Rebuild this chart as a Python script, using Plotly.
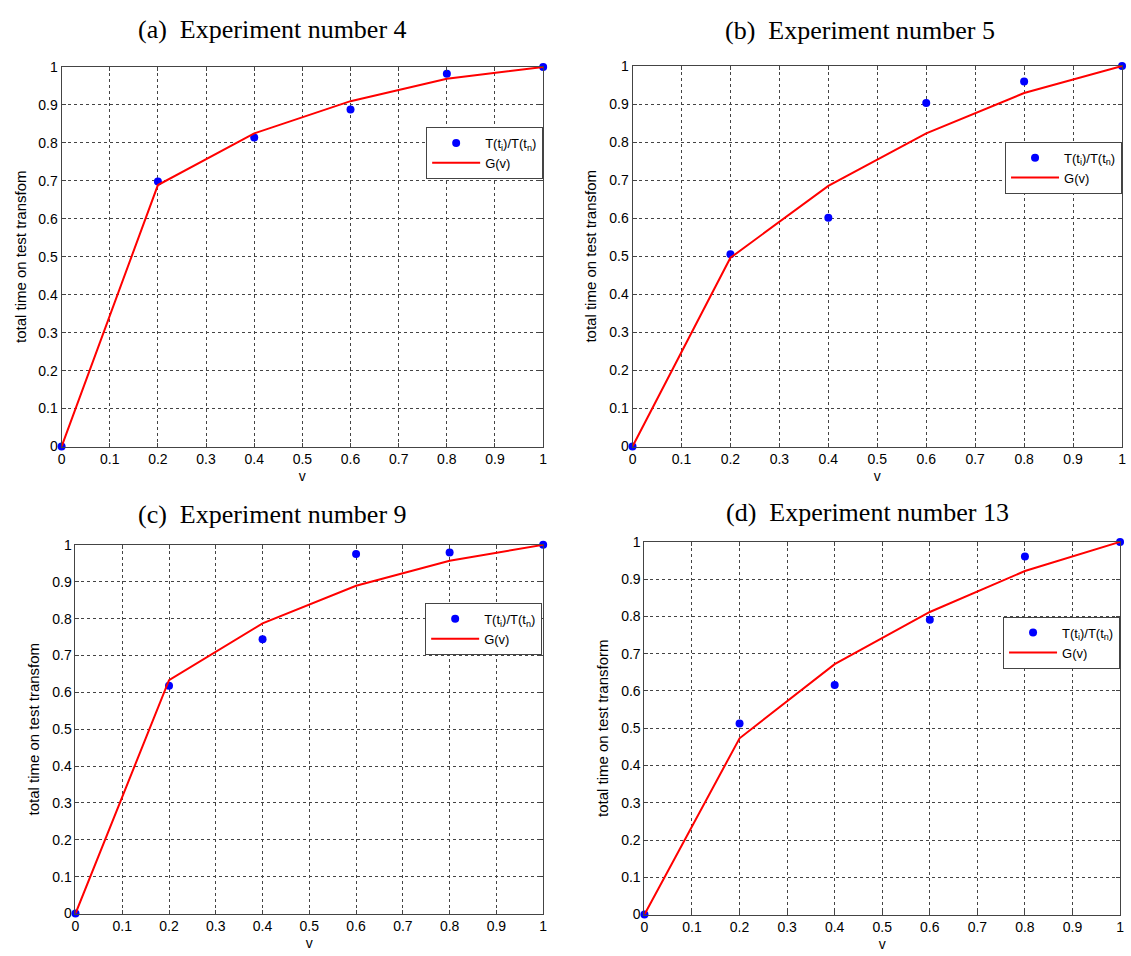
import plotly.graph_objects as go

v = [0, 0.2, 0.4, 0.6, 0.8, 1.0]

titles = ["(a)  Experiment number 4", "(b)  Experiment number 5",
          "(c)  Experiment number 9", "(d)  Experiment number 13"]
ylabels = ["total time on test transfom", "total time on test transfom",
           "total time on test transfom", "total time on test transform"]

pts_a = [0, 0.698, 0.814, 0.888, 0.982, 1.0]
g_a = [0, 0.689, 0.825, 0.910, 0.969, 1.0]
pts_b = [0, 0.505, 0.601, 0.903, 0.959, 1.0]
g_b = [0, 0.496, 0.685, 0.823, 0.929, 1.0]
pts_c = [0, 0.618, 0.744, 0.975, 0.979, 1.0]
g_c = [0, 0.633, 0.787, 0.889, 0.957, 1.0]
pts_d = [0, 0.513, 0.616, 0.791, 0.961, 1.0]
g_d = [0, 0.473, 0.672, 0.812, 0.922, 1.0]

points = [pts_a, pts_b, pts_c, pts_d]
curves = [g_a, g_b, g_c, g_d]

W, H = 1131, 956
# plot area pixel boxes (left, right, top, bottom)
boxes = [(58, 543, 60, 446), (633, 1126, 59, 446),
         (72, 543, 546, 921), (645, 1124, 543, 922)]
title_pos = [(270, 22), (862, 23), (270, 515), (870, 513)]
legend_pos = [(543, 121), (1126, 136), (542, 605), (1124, 619)]

fig = go.Figure()
layout = dict(width=W, height=H, margin=dict(l=0, r=0, t=0, b=0),
              paper_bgcolor="white", plot_bgcolor="white",
              font=dict(family="Liberation Sans, Arial", size=14, color="black"),
              annotations=[])

for i in range(4):
    sfx = "" if i == 0 else str(i + 1)
    leg = "legend" if i == 0 else f"legend{i+1}"
    fig.add_trace(go.Scatter(x=v, y=points[i], mode="markers",
                             marker=dict(color="#0000FF", size=8),
                             name="T(t<sub>i</sub>)/T(t<sub>n</sub>)",
                             xaxis="x" + sfx, yaxis="y" + sfx, legend=leg,
                             cliponaxis=False))
    fig.add_trace(go.Scatter(x=v, y=curves[i], mode="lines",
                             line=dict(color="#FF0000", width=2),
                             name="G(v)",
                             xaxis="x" + sfx, yaxis="y" + sfx, legend=leg,
                             cliponaxis=False))
    l, r, t, b = boxes[i]
    common = dict(range=[0, 1], dtick=0.1, tick0=0,
                  showgrid=True, gridcolor="#444444", griddash="dot", gridwidth=1,
                  showline=True, linecolor="#444444", linewidth=1, mirror="ticks",
                  ticks="inside", ticklen=4, tickcolor="#444444",
                  zeroline=False, tickfont=dict(size=14, color="black"))
    ax = dict(common, domain=[l / W, r / W],
              title=dict(text="v", font=dict(size=14), standoff=4),
              anchor="y" + sfx)
    ay = dict(common, domain=[1 - b / H, 1 - t / H],
              title=dict(text=ylabels[i], font=dict(size=15), standoff=8),
              anchor="x" + sfx)
    layout["xaxis" + sfx] = ax
    layout["yaxis" + sfx] = ay
    lx, ly = legend_pos[i]
    layout[leg] = dict(x=lx / W, y=1 - ly / H, xanchor="right", yanchor="top",
                       xref="paper", yref="paper", itemwidth=48,
                       bgcolor="white", bordercolor="#444444", borderwidth=1,
                       font=dict(size=13), tracegroupgap=0)
    tx, ty = title_pos[i]
    layout["annotations"].append(dict(text=titles[i], x=tx / W, y=1 - ty / H,
                                      xref="paper", yref="paper",
                                      xanchor="center", yanchor="middle",
                                      showarrow=False,
                                      font=dict(family="Liberation Serif, serif",
                                                size=26, color="black")))

fig.update_layout(**layout)
fig.write_html("out.html")
